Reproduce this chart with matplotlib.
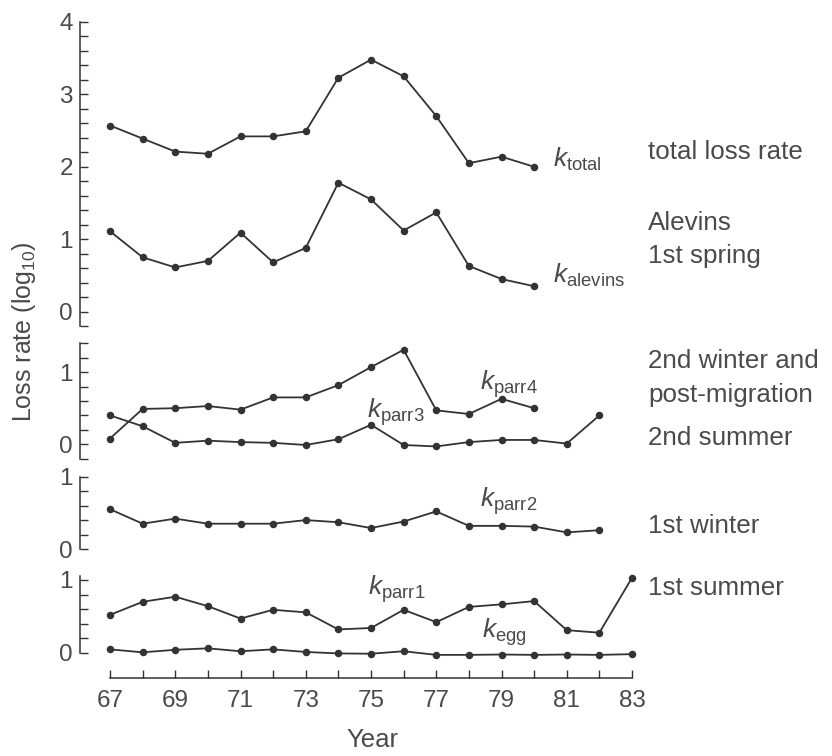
import numpy as np
import matplotlib
matplotlib.use("Agg")
import matplotlib.pyplot as plt
from matplotlib.ticker import MultipleLocator, FixedLocator

plt.rcParams['font.family'] = ['Liberation Sans', 'DejaVu Sans']
plt.rcParams['mathtext.fontset'] = 'custom'
plt.rcParams['mathtext.rm'] = 'Liberation Sans'
plt.rcParams['mathtext.it'] = 'Liberation Sans:italic'

# ---- data (log10 loss rates by year class) ----
years = list(range(67, 84))

years_total = list(range(67, 81))
k_total = [2.57, 2.39, 2.21, 2.18, 2.42, 2.42, 2.49, 3.23, 3.48, 3.25, 2.70, 2.05, 2.14, 2.00]
k_alevins = [1.11, 0.75, 0.61, 0.70, 1.09, 0.68, 0.88, 1.78, 1.55, 1.12, 1.37, 0.63, 0.45, 0.35]

years_parr4 = list(range(67, 81))
k_parr4 = [0.08, 0.49, 0.50, 0.53, 0.48, 0.65, 0.65, 0.82, 1.07, 1.31, 0.47, 0.42, 0.63, 0.50]

years_parr3 = list(range(67, 83))
k_parr3 = [0.40, 0.25, 0.02, 0.05, 0.03, 0.02, -0.01, 0.07, 0.27, -0.01, -0.03, 0.03,
           0.06, 0.06, 0.01, 0.40]

years_parr2 = list(range(67, 83))
k_parr2 = [0.55, 0.35, 0.42, 0.35, 0.35, 0.35, 0.40, 0.37, 0.29, 0.38, 0.52, 0.32,
           0.32, 0.31, 0.23, 0.26]

years_parr1 = list(range(67, 84))
k_parr1 = [0.52, 0.70, 0.77, 0.64, 0.47, 0.59, 0.555, 0.32, 0.34, 0.59, 0.42, 0.63,
           0.665, 0.71, 0.31, 0.275, 1.03]

years_egg = list(range(67, 84))
k_egg = [0.046, 0.005, 0.04, 0.06, 0.02, 0.046, 0.01, -0.01, -0.014, 0.02, -0.03, -0.03,
         -0.025, -0.03, -0.025, -0.03, -0.02]

year_ticks = list(range(67, 84, 2))

# ---- layout helpers (pixel coordinates on an 832 x 756 canvas) ----
W, H = 832, 756
fig = plt.figure(figsize=(W / 100, H / 100), dpi=100)

TEXT = '#4a4a4a'
LINE = '#333333'

x_left_px, x_right_px = 80, 640
px_per_year = 32.625
x0_px = 110  # position of 1967
xlim = (67 - (x0_px - x_left_px) / px_per_year, 67 + (x_right_px - x0_px) / px_per_year)


def make_axes(top_px, bottom_px):
    return fig.add_axes([x_left_px / W, 1 - bottom_px / H,
                         (x_right_px - x_left_px) / W, (bottom_px - top_px) / H])


def style_axes(ax, ylim, bounds, majors, minor_step):
    ax.set_xlim(*xlim)
    ax.set_ylim(*ylim)
    for s in ('top', 'right', 'bottom'):
        ax.spines[s].set_visible(False)
    ax.spines['left'].set_bounds(*bounds)
    ax.spines['left'].set_color(LINE)
    ax.spines['left'].set_linewidth(1.1)
    ax.yaxis.set_major_locator(FixedLocator(majors))
    ax.yaxis.set_minor_locator(MultipleLocator(minor_step))
    ax.set_yticklabels([str(m) for m in majors])
    ax.tick_params(axis='y', which='both', direction='in', length=5.5, width=1.0,
                   color=LINE, labelsize=17.5, labelcolor=TEXT, pad=5)
    ax.tick_params(axis='x', which='both', bottom=False, labelbottom=False)
    ax.patch.set_alpha(0)


def plot_series(ax, xs, ys):
    ax.plot(xs, ys, color=LINE, lw=1.3, marker='o', ms=4.4, mfc=LINE, mec=LINE,
            clip_on=False, zorder=3)


# panel 1: total and alevin losses
ax1 = make_axes(22, 22 + 4.2 * 72.4)
style_axes(ax1, (-0.2, 4), (-0.2, 4), [0, 1, 2, 3, 4], 0.2)
plot_series(ax1, years_total, k_total)
plot_series(ax1, years_total, k_alevins)

# panel 2: parr3 / parr4
ax2 = make_axes(343.3, 458.7)
style_axes(ax2, (-0.2, 1.4), (-0.2, 1.4), [0, 1], 0.2)
plot_series(ax2, years_parr4, k_parr4)
plot_series(ax2, years_parr3, k_parr3)

# panel 3: parr2
ax3 = make_axes(476.7, 549)
style_axes(ax3, (0, 1), (0, 1), [0, 1], 0.2)
plot_series(ax3, years_parr2, k_parr2)

# panel 4: parr1 / egg, carries the year axis
ax4 = make_axes(580 - 0.1 * 72.7, 652.7 + 0.1 * 72.7)
style_axes(ax4, (-0.1, 1.1), (0, 1.05), [0, 1], 0.2)
plot_series(ax4, years_parr1, k_parr1)
plot_series(ax4, years_egg, k_egg)

ax4.spines['bottom'].set_visible(True)
ax4.spines['bottom'].set_position(('outward', 18 * 0.72))
ax4.spines['bottom'].set_bounds(67, 83)
ax4.spines['bottom'].set_color(LINE)
ax4.spines['bottom'].set_linewidth(1.1)
ax4.xaxis.set_major_locator(FixedLocator(year_ticks))
ax4.xaxis.set_minor_locator(MultipleLocator(1))
ax4.set_xticklabels([str(y) for y in year_ticks])
ax4.tick_params(axis='x', which='both', bottom=True, labelbottom=True, direction='in',
                length=6, width=1.0, color=LINE, labelsize=17.5, labelcolor=TEXT, pad=9)


def ftext(x_px, y_px, s, **kw):
    kw.setdefault('color', TEXT)
    kw.setdefault('fontsize', 18.7)
    kw.setdefault('va', 'baseline')
    kw.setdefault('ha', 'left')
    fig.text(x_px / W, 1 - y_px / H, s, **kw)


# series labels
ftext(553, 167, r'$k_{\mathrm{total}}$', fontsize=19)
ftext(553, 283, r'$k_{\mathrm{alevins}}$', fontsize=19)
ftext(480, 390, r'$k_{\mathrm{parr4}}$', fontsize=19)
ftext(367, 418, r'$k_{\mathrm{parr3}}$', fontsize=19)
ftext(480, 507, r'$k_{\mathrm{parr2}}$', fontsize=19)
ftext(368, 595, r'$k_{\mathrm{parr1}}$', fontsize=19)
ftext(482, 638, r'$k_{\mathrm{egg}}$', fontsize=19)

# life stage descriptions
ftext(648, 159, 'total loss rate')
ftext(648, 230, 'Alevins')
ftext(648, 263, '1st spring')
ftext(648, 368, '2nd winter and')
ftext(648, 402, 'post-migration')
ftext(648, 445, '2nd summer')
ftext(648, 533, '1st winter')
ftext(648, 595, '1st summer')

# axis titles
ftext(24, 332, r'Loss rate (log$_{10}$)', rotation=90, va='center', ha='center', fontsize=18)
ftext(372, 740, 'Year', va='center', ha='center', fontsize=18.5)

fig.savefig('out.png', dpi=100, facecolor='white')
